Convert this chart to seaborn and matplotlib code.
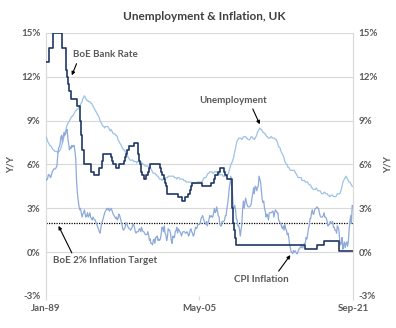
import pandas as pd
import matplotlib
matplotlib.use('Agg')
import matplotlib.pyplot as plt
import seaborn as sns
from matplotlib.ticker import FuncFormatter

# ---------------- data (monthly, Jan-1989 .. Sep-2021) ----------------
unemployment = [
    7.9, 7.8, 7.6, 7.5, 7.4, 7.3, 7.3, 7.2, 7.1, 7.0, 7.0, 6.9,   # 1989
    6.9, 6.9, 6.9, 6.8, 6.9, 6.9, 7.0, 7.1, 7.3, 7.5, 7.7, 7.9,   # 1990
    8.1, 8.3, 8.5, 8.7, 8.8, 8.9, 9.0, 9.1, 9.2, 9.3, 9.3, 9.4,   # 1991
    9.5, 9.6, 9.7, 9.7, 9.8, 9.8, 9.9, 10.0, 10.1, 10.2, 10.3, 10.5,  # 1992
    10.6, 10.7, 10.6, 10.5, 10.4, 10.4, 10.3, 10.3, 10.3, 10.2, 10.2, 10.1,  # 1993
    10.0, 9.9, 9.8, 9.7, 9.6, 9.5, 9.4, 9.3, 9.2, 9.0, 8.9, 8.8,  # 1994
    8.7, 8.6, 8.6, 8.5, 8.6, 8.6, 8.6, 8.6, 8.5, 8.4, 8.3, 8.4,   # 1995
    8.3, 8.2, 8.1, 8.1, 8.1, 8.0, 8.0, 7.9, 7.7, 7.6, 7.5, 7.4,   # 1996
    7.3, 7.2, 7.1, 7.0, 7.0, 6.9, 6.8, 6.7, 6.6, 6.5, 6.4, 6.3,   # 1997
    6.3, 6.3, 6.3, 6.3, 6.2, 6.2, 6.2, 6.2, 6.1, 6.2, 6.2, 6.2,   # 1998
    6.2, 6.2, 6.1, 6.1, 6.0, 6.0, 5.9, 5.9, 5.9, 5.9, 5.9, 5.8,   # 1999
    5.8, 5.8, 5.7, 5.6, 5.5, 5.4, 5.4, 5.4, 5.3, 5.3, 5.2, 5.2,   # 2000
    5.1, 5.0, 5.0, 5.0, 4.9, 5.0, 5.0, 5.0, 5.1, 5.1, 5.1, 5.1,   # 2001
    5.2, 5.2, 5.2, 5.2, 5.2, 5.2, 5.2, 5.2, 5.1, 5.1, 5.1, 5.0,   # 2002
    5.1, 5.1, 5.1, 5.0, 5.0, 5.0, 5.0, 5.0, 4.9, 4.9, 4.9, 4.8,   # 2003
    4.8, 4.8, 4.8, 4.8, 4.8, 4.8, 4.7, 4.7, 4.7, 4.7, 4.7, 4.7,   # 2004
    4.7, 4.8, 4.8, 4.8, 4.8, 4.8, 4.8, 4.8, 4.9, 5.0, 5.1, 5.1,   # 2005
    5.1, 5.2, 5.3, 5.4, 5.4, 5.5, 5.5, 5.5, 5.5, 5.4, 5.4, 5.5,   # 2006
    5.5, 5.5, 5.5, 5.4, 5.4, 5.4, 5.3, 5.3, 5.3, 5.3, 5.2, 5.2,   # 2007
    5.2, 5.2, 5.2, 5.3, 5.3, 5.4, 5.6, 5.8, 6.0, 6.1, 6.2, 6.4,   # 2008
    6.6, 6.9, 7.1, 7.4, 7.6, 7.7, 7.8, 7.8, 7.8, 7.8, 7.7, 7.8,   # 2009
    7.9, 7.9, 7.9, 7.9, 7.8, 7.8, 7.7, 7.7, 7.7, 7.8, 7.9, 7.9,   # 2010
    7.8, 7.8, 7.7, 7.8, 7.9, 8.0, 8.2, 8.3, 8.4, 8.5, 8.4, 8.4,   # 2011
    8.3, 8.2, 8.2, 8.1, 8.1, 8.0, 7.9, 7.9, 7.8, 7.8, 7.8, 7.9,   # 2012
    7.9, 7.8, 7.8, 7.8, 7.8, 7.7, 7.7, 7.6, 7.4, 7.2, 7.2, 7.1,   # 2013
    6.9, 6.8, 6.7, 6.6, 6.4, 6.2, 6.1, 6.0, 6.0, 5.8, 5.8, 5.7,   # 2014
    5.6, 5.6, 5.6, 5.6, 5.6, 5.6, 5.5, 5.4, 5.3, 5.2, 5.1, 5.1,   # 2015
    5.1, 5.1, 5.1, 4.9, 4.9, 4.9, 4.9, 4.8, 4.8, 4.8, 4.8, 4.7,   # 2016
    4.6, 4.6, 4.6, 4.4, 4.4, 4.3, 4.3, 4.3, 4.3, 4.4, 4.3, 4.2,   # 2017
    4.2, 4.2, 4.2, 4.1, 4.0, 4.0, 4.0, 4.1, 4.1, 4.0, 4.0, 4.0,   # 2018
    3.9, 3.9, 3.8, 3.8, 3.9, 3.9, 3.9, 3.8, 3.8, 3.8, 3.8, 3.9,   # 2019
    4.0, 4.0, 4.0, 4.0, 4.1, 4.3, 4.5, 4.8, 4.9, 5.0, 5.1, 5.2,   # 2020
    5.1, 5.0, 4.9, 4.8, 4.8, 4.7, 4.6, 4.5, 4.5,                  # 2021
]

cpi = [
    4.9, 5.0, 5.0, 5.3, 5.3, 5.2, 5.1, 5.3, 5.5, 5.6, 5.7, 5.7,   # 1989
    5.7, 5.8, 5.9, 6.6, 7.1, 7.2, 7.4, 7.9, 8.0, 7.5, 7.9, 8.2,   # 1990
    8.0, 8.1, 8.3, 8.4, 7.8, 7.4, 7.0, 7.2, 7.1, 7.3, 7.2, 7.3,   # 1991
    7.3, 6.9, 6.4, 4.9, 4.1, 3.6, 3.2, 2.9, 3.0, 2.7, 2.4, 2.6,   # 1992
    2.7, 2.9, 2.6, 2.4, 2.5, 2.7, 2.4, 2.5, 2.7, 2.4, 2.3, 2.2,   # 1993
    2.4, 2.3, 2.2, 2.2, 2.0, 1.9, 1.7, 1.6, 1.4, 1.3, 1.6, 2.0,   # 1994
    2.1, 2.3, 2.5, 2.7, 2.8, 2.9, 3.0, 2.9, 3.0, 2.8, 2.9, 3.0,   # 1995
    2.9, 2.7, 2.6, 2.5, 2.4, 2.3, 2.4, 2.2, 2.3, 2.6, 2.5, 2.3,   # 1996
    2.1, 1.9, 1.6, 1.5, 1.6, 1.7, 2.0, 2.0, 1.8, 1.7, 1.6, 1.6,   # 1997
    1.5, 1.6, 1.7, 1.9, 1.9, 1.7, 1.4, 1.3, 1.4, 1.4, 1.4, 1.6,   # 1998
    1.6, 1.4, 1.7, 1.5, 1.4, 1.4, 1.3, 1.2, 1.2, 1.2, 1.4, 1.2,   # 1999
    0.8, 0.9, 0.6, 0.6, 0.5, 0.8, 0.9, 0.6, 1.0, 1.0, 1.1, 0.8,   # 2000
    0.9, 0.8, 0.9, 1.2, 1.7, 1.7, 1.4, 1.8, 1.3, 1.2, 0.8, 1.0,   # 2001
    1.6, 1.5, 1.5, 1.3, 0.8, 0.6, 1.1, 1.0, 1.0, 1.4, 1.5, 1.7,   # 2002
    1.3, 1.6, 1.5, 1.4, 1.3, 1.1, 1.3, 1.4, 1.4, 1.4, 1.3, 1.3,   # 2003
    1.4, 1.3, 1.1, 1.2, 1.5, 1.6, 1.4, 1.3, 1.1, 1.2, 1.5, 1.7,   # 2004
    1.6, 1.7, 1.9, 1.9, 1.9, 2.0, 2.3, 2.4, 2.5, 2.3, 2.1, 2.0,   # 2005
    1.9, 2.1, 1.8, 2.0, 2.2, 2.5, 2.4, 2.5, 2.4, 2.4, 2.7, 3.0,   # 2006
    2.7, 2.8, 3.1, 2.8, 2.5, 2.4, 1.9, 1.8, 1.8, 2.1, 2.1, 2.1,   # 2007
    2.2, 2.5, 2.5, 3.0, 3.3, 3.8, 4.4, 4.7, 5.2, 4.5, 4.1, 3.1,   # 2008
    3.0, 3.2, 2.9, 2.3, 2.2, 1.8, 1.8, 1.6, 1.1, 1.5, 1.9, 2.9,   # 2009
    3.5, 3.0, 3.4, 3.7, 3.4, 3.2, 3.1, 3.1, 3.1, 3.2, 3.3, 3.7,   # 2010
    4.0, 4.4, 4.0, 4.5, 4.5, 4.2, 4.4, 4.5, 5.2, 5.0, 4.8, 4.2,   # 2011
    3.6, 3.4, 3.5, 3.0, 2.8, 2.4, 2.6, 2.5, 2.2, 2.7, 2.7, 2.7,   # 2012
    2.7, 2.8, 2.8, 2.4, 2.7, 2.9, 2.8, 2.7, 2.7, 2.2, 2.1, 2.0,   # 2013
    1.9, 1.7, 1.6, 1.8, 1.5, 1.9, 1.6, 1.5, 1.2, 1.3, 1.0, 0.5,   # 2014
    0.3, 0.0, 0.0, -0.1, 0.1, 0.0, 0.1, 0.0, -0.1, -0.1, 0.1, 0.2,  # 2015
    0.3, 0.3, 0.5, 0.3, 0.3, 0.5, 0.6, 0.6, 1.0, 0.9, 1.2, 1.6,   # 2016
    1.8, 2.3, 2.3, 2.7, 2.9, 2.6, 2.6, 2.9, 3.0, 3.0, 3.1, 3.0,   # 2017
    3.0, 2.7, 2.5, 2.4, 2.4, 2.4, 2.5, 2.7, 2.4, 2.4, 2.3, 2.1,   # 2018
    1.8, 1.9, 1.9, 2.1, 2.0, 2.0, 2.1, 1.7, 1.7, 1.5, 1.5, 1.3,   # 2019
    1.8, 1.7, 1.5, 0.8, 0.5, 0.6, 1.0, 0.2, 0.5, 0.7, 0.3, 0.6,   # 2020
    0.7, 0.4, 0.7, 1.5, 2.1, 2.5, 2.0, 3.2, 3.1,                  # 2021
]

rate_dates = [
    '1989-01-01', '1989-05-01', '1989-10-01', '1990-10-01', '1991-02-01',
    '1991-03-01', '1991-04-01', '1991-05-01', '1991-07-01', '1991-09-01',
    '1992-05-01', '1992-09-01', '1992-10-01', '1992-11-01', '1993-01-01',
    '1993-11-01', '1994-02-01', '1994-09-01', '1994-12-01', '1995-02-01',
    '1995-12-01', '1996-01-01', '1996-03-01', '1996-06-01', '1996-10-01',
    '1997-05-01', '1997-06-01', '1997-07-01', '1997-08-01', '1997-11-01',
    '1998-06-01', '1998-10-01', '1998-11-01', '1998-12-01', '1999-01-01',
    '1999-02-01', '1999-04-01', '1999-06-01', '1999-09-01', '1999-11-01',
    '2000-01-01', '2000-02-01', '2001-02-01', '2001-04-01', '2001-05-01',
    '2001-08-01', '2001-09-01', '2001-10-01', '2001-11-01', '2003-02-01',
    '2003-07-01', '2003-11-01', '2004-02-01', '2004-05-01', '2004-06-01',
    '2004-08-01', '2005-08-01', '2006-08-01', '2006-11-01', '2007-01-01',
    '2007-05-01', '2007-07-01', '2007-12-01', '2008-02-01', '2008-04-01',
    '2008-10-01', '2008-11-01', '2008-12-01', '2009-01-01', '2009-02-01',
    '2009-03-01', '2016-08-01', '2017-11-01', '2018-08-01', '2020-03-01',
    '2021-09-01',
]
rate_values = [
    13.0, 14.0, 15.0, 14.0, 13.5,
    12.5, 12.0, 11.5, 11.0, 10.5,
    10.0, 9.0, 8.0, 7.0, 6.0,
    5.5, 5.25, 5.75, 6.25, 6.75,
    6.5, 6.25, 6.0, 5.75, 6.0,
    6.25, 6.5, 6.75, 7.0, 7.25,
    7.5, 7.25, 6.75, 6.25, 6.0,
    5.5, 5.25, 5.0, 5.25, 5.5,
    5.75, 6.0, 5.75, 5.5, 5.25,
    5.0, 4.75, 4.5, 4.0, 3.75,
    3.5, 3.75, 4.0, 4.25, 4.5,
    4.75, 4.5, 4.75, 5.0, 5.25,
    5.5, 5.75, 5.5, 5.25, 5.0,
    4.5, 3.0, 2.0, 1.5, 1.0,
    0.5, 0.25, 0.5, 0.75, 0.1,
    0.1,
]

inflation_target = 2.0
y_ticks = [-3, 0, 3, 6, 9, 12, 15]
x_tick_dates = ['1989-01-01', '2005-05-01', '2021-09-01']
x_tick_labels = ['Jan-89', 'May-05', 'Sep-21']

# ---------------- frames ----------------
months = pd.date_range('1989-01-01', periods=len(unemployment), freq='MS')
df = pd.DataFrame({'date': months, 'unemployment': unemployment, 'cpi': cpi})
rate_df = pd.DataFrame({'date': pd.to_datetime(rate_dates), 'rate': rate_values})

# ---------------- style ----------------
sns.set_theme(style='white')
plt.rcParams['font.family'] = ['Lato', 'DejaVu Sans']
TXT = '#595959'
GRID = '#D9D9D9'
NAVY = '#1F3864'
UNEMP_C = '#9DC3E6'
CPI_C = '#8EAADB'

fig = plt.figure(figsize=(3.96, 3.28), dpi=100)
fig.patch.set_facecolor('white')
ax = fig.add_axes([0.1162, 0.0976, 0.7753, 0.8018])

sns.lineplot(data=df, x='date', y='unemployment', ax=ax, color=UNEMP_C, lw=0.9,
             legend=False, zorder=3)
sns.lineplot(data=df, x='date', y='cpi', ax=ax, color=CPI_C, lw=0.9,
             legend=False, zorder=3)
sns.lineplot(data=rate_df, x='date', y='rate', ax=ax, color=NAVY, lw=1.2,
             drawstyle='steps-post', legend=False, zorder=4)
ax.axhline(inflation_target, color='black', lw=0.9, ls=(0, (1, 1)), zorder=2)

xmin, xmax = pd.Timestamp(x_tick_dates[0]), pd.Timestamp(x_tick_dates[-1])
ax.set_xlim(xmin, xmax)
ax.set_ylim(-3, 15)
ax.set_yticks(y_ticks)
pct = FuncFormatter(lambda v, p: f'{v:.0f}%')
ax.yaxis.set_major_formatter(pct)
ax.set_xticks(pd.to_datetime(x_tick_dates))
ax.set_xticklabels(x_tick_labels)
ax.set_xlabel('')
ax.set_ylabel('Y/Y', color=TXT, fontsize=7, labelpad=4, fontweight='bold')
ax.grid(axis='y', color=GRID, lw=0.8)
ax.set_axisbelow(True)
for s in ['top', 'bottom']:
    ax.spines[s].set_visible(False)
for s in ['left', 'right']:
    ax.spines[s].set_color(GRID)
    ax.spines[s].set_linewidth(0.8)
ax.tick_params(axis='y', length=0, labelsize=7, labelcolor=TXT, pad=4)
ax.tick_params(axis='x', length=3, width=0.8, color=GRID, labelsize=7,
               labelcolor=TXT, pad=3, direction='out', bottom=True)

ax2 = ax.twinx()
ax2.set_ylim(-3, 15)
ax2.set_yticks(y_ticks)
ax2.yaxis.set_major_formatter(pct)
ax2.tick_params(axis='y', length=0, labelsize=7, labelcolor=TXT, pad=4)
ax2.set_ylabel('Y/Y', color=TXT, fontsize=7, labelpad=4, fontweight='bold')
for s in ax2.spines.values():
    s.set_visible(False)
ax2.grid(False)

for lab in ax.get_xticklabels() + ax.get_yticklabels() + ax2.get_yticklabels():
    lab.set_fontweight('bold')

fig.text(0.515, 0.949, 'Unemployment & Inflation, UK', ha='center', va='center',
         fontsize=8.5, fontweight='bold', color='#404040')

arrow = dict(arrowstyle='-|>', color='black', lw=0.8, mutation_scale=5,
             shrinkA=0, shrinkB=0)
T = pd.Timestamp
ax.text(T('1995-05-01'), 13.5, 'BoE Bank Rate', ha='center', va='center',
        fontsize=7, color=TXT, fontweight='bold')
ax.annotate('', xy=(T('1991-10-01'), 12.1), xytext=(T('1992-04-01'), 12.9),
            arrowprops=arrow)
ax.text(T('2008-12-01'), 10.4, 'Unemployment', ha='center', va='center',
        fontsize=7, color=TXT, fontweight='bold')
ax.annotate('', xy=(T('2011-10-01'), 8.75), xytext=(T('2011-01-01'), 9.8),
            arrowprops=arrow)
ax.text(T('1995-04-01'), -0.6, 'BoE 2% Inflation Target', ha='center', va='center',
        fontsize=7, color=TXT, fontweight='bold')
ax.annotate('', xy=(T('1990-05-01'), 1.8), xytext=(T('1991-10-01'), -0.05),
            arrowprops=arrow)
ax.text(T('2011-12-01'), -1.9, 'CPI Inflation', ha='center', va='center',
        fontsize=7, color=TXT, fontweight='bold')
ax.annotate('', xy=(T('2015-01-01'), -0.2), xytext=(T('2013-10-01'), -1.3),
            arrowprops=arrow)

fig.savefig('out.png', dpi=100, facecolor='white')
